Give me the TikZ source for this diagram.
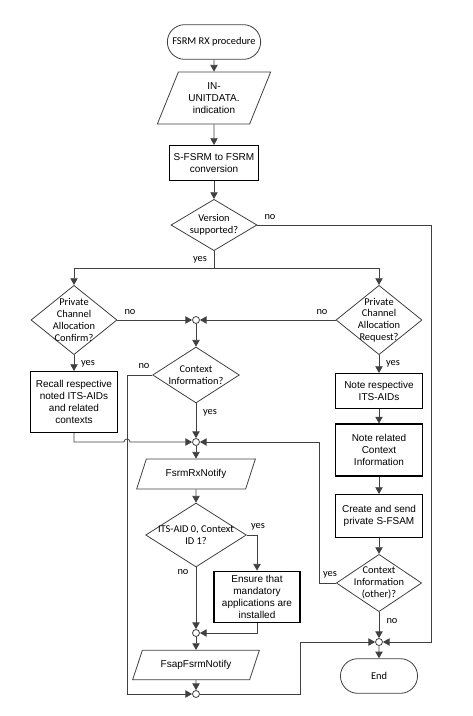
\documentclass[tikz,border=0pt]{standalone}
\usepackage{fontspec}
\setmainfont{Liberation Sans}
\newfontfamily\calfont{Carlito}
\usetikzlibrary{arrows.meta, shapes.geometric, shapes.misc}
\definecolor{linegray}{HTML}{404040}

\begin{document}
\begin{tikzpicture}[x=0.75pt, y=-0.75pt, >={Triangle[width=5.5pt,length=5pt]},
    line width=0.6pt, draw=linegray,
    term/.style={rounded rectangle, draw=linegray, minimum width=64.5pt, minimum height=26pt,
      font=\calfont\fontsize{7.8}{9}\selectfont},
    proc/.style={rectangle, draw=black, line width=0.8pt, align=center, minimum width=65pt,
      font=\fontsize{7.5}{8.9}\selectfont},
    data/.style={trapezium, trapezium left angle=62, trapezium right angle=118,
      trapezium stretches body, draw=linegray, align=center, font=\fontsize{7.5}{8.9}\selectfont},
    decision/.style={diamond, draw=linegray, inner sep=0pt},
    dtext/.style={align=center, font=\calfont\fontsize{7.8}{8.8}\selectfont},
    merge/.style={circle, draw=linegray, fill=white, minimum size=5.25pt, inner sep=0pt},
    lbl/.style={font=\calfont\fontsize{7.8}{9}\selectfont, inner sep=0pt}]
  \useasboundingbox (0,0) rectangle (473,716);

  % left and main column
  \node[term]                                (start)   at (214,42)  {FSRM RX procedure};
  \node[data, minimum width=85pt, minimum height=39pt] (indata) at (214,98) {IN-\\UNITDATA.\\indication};
  \node[proc, minimum height=26.25pt]        (conv)    at (214,163) {S-FSRM to FSRM\\conversion};
  \node[decision, minimum width=64.5pt, minimum height=38.5pt,
        label={[dtext]center:Version\\supported?}] (vers) at (214,225) {};
  \node[decision, minimum width=64.5pt, minimum height=52pt,
        label={[dtext]center:Private\\Channel\\Allocation\\Confirm?}] (pcac) at (74,320) {};
  \node[decision, minimum width=64.5pt, minimum height=52pt,
        label={[dtext]center:Private\\Channel\\Allocation\\Request?}] (pcar) at (379,320) {};
  \node[merge]                               (joinA)   at (196,320) {};
  \node[decision, minimum width=65pt, minimum height=42pt,
        label={[dtext]center:Context\\Information?}] (ctx) at (196,375) {};
  \node[proc, minimum height=45.75pt]        (recall)  at (74,402)  {Recall respective\\noted ITS-AIDs\\and related\\contexts};
  \node[merge]                               (joinB)   at (196,442) {};
  \node[data, minimum width=89pt, minimum height=22.5pt] (rxn) at (196,474) {FsrmRxNotify};
  \node[decision, minimum width=75.5pt, minimum height=48pt,
        label={[dtext]center:ITS-AID 0, Context\\ID 1?}] (itsaid) at (196,535) {};
  \node[proc, minimum width=64.5pt, minimum height=37.5pt] (ensure) at (257,597) {Ensure that\\mandatory\\applications are\\installed};
  \node[merge]                               (joinC)   at (196,633) {};
  \node[data, minimum width=95pt, minimum height=22pt] (fsap) at (196,665) {FsapFsrmNotify};
  \node[merge]                               (joinD)   at (196,694) {};

  % right column
  \node[proc, minimum height=26.25pt]        (noteaid) at (379,391) {Note respective\\ITS-AIDs};
  \node[proc, minimum height=39pt]           (notectx) at (379,450) {Note related\\Context\\Information};
  \node[proc, minimum height=32.25pt]        (create)  at (379,516) {Create and send\\private S-FSAM};
  \node[decision, minimum width=64pt, minimum height=43pt,
        label={[dtext]center:Context\\Information\\(other)?}] (ctxo) at (379,583) {};
  \node[merge]                               (joinE)   at (379,642) {};
  \node[term]                                (stop)    at (379,676) {End};

  % corners of the long connectors
  \coordinate (split)  at (214,268);
  \coordinate (rim)    at (431,225);
  \coordinate (ctxno)  at (127,375);
  \coordinate (loopup) at (300,694);
  \coordinate (back)   at (319,583);

  \draw[->] (start) -- (indata);
  \draw[->] (indata) -- (conv);
  \draw[->] (conv) -- (vers);
  \draw[->] (vers.east) -- (rim) |- (joinE);
  \draw (vers.south) -- (split);
  \draw[->] (split) -| (pcac.north);
  \draw[->] (split) -| (pcar.north);
  \draw[->] (pcac.east) -- (joinA);
  \draw[->] (pcar.west) -- (joinA);
  \draw[->] (joinA) -- (ctx);
  \draw[->] (pcac.south) -- (recall);
  \draw[->] (ctx.west) -- (ctxno) |- (joinD);
  \draw[->] (ctx.south) -- (joinB);
  \draw[->] (recall.south) |- ([xshift=-2.25pt]ctxno |- joinB)
    arc[start angle=180, end angle=360, radius=3] -- (joinB);
  \draw[->] (joinB) -- (rxn);
  \draw[->] (rxn) -- (itsaid);
  \draw[->] (itsaid.east) -| (ensure.north);
  \draw[->] (itsaid.south) -- (joinC);
  \draw[->] (ensure.south) |- (joinC);
  \draw[->] (joinC) -- (fsap);
  \draw[->] (fsap) -- (joinD);
  \draw[->] (joinD) -- (loopup) |- (joinE);
  \draw[->] (pcar.south) -- (noteaid);
  \draw[->] (noteaid) -- (notectx);
  \draw[->] (notectx) -- (create);
  \draw[->] (create) -- (ctxo);
  \draw[->] (ctxo.west) -- (back) |- (joinB);
  \draw[->] (ctxo.south) -- (joinE);
  \draw[->] (joinE) -- (stop);

  % branch labels
  \node[lbl] at (270,217) {no};
  \node[lbl] at (200,260) {yes};
  \node[lbl] at (130,312) {no};
  \node[lbl] at (322,312) {no};
  \node[lbl] at (88,364)  {yes};
  \node[lbl] at (393,364) {yes};
  \node[lbl] at (144,366) {no};
  \node[lbl] at (210,413) {yes};
  \node[lbl] at (258,527) {yes};
  \node[lbl] at (183,572) {no};
  \node[lbl] at (330,575) {yes};
  \node[lbl] at (392,621) {no};
\end{tikzpicture}
\end{document}
